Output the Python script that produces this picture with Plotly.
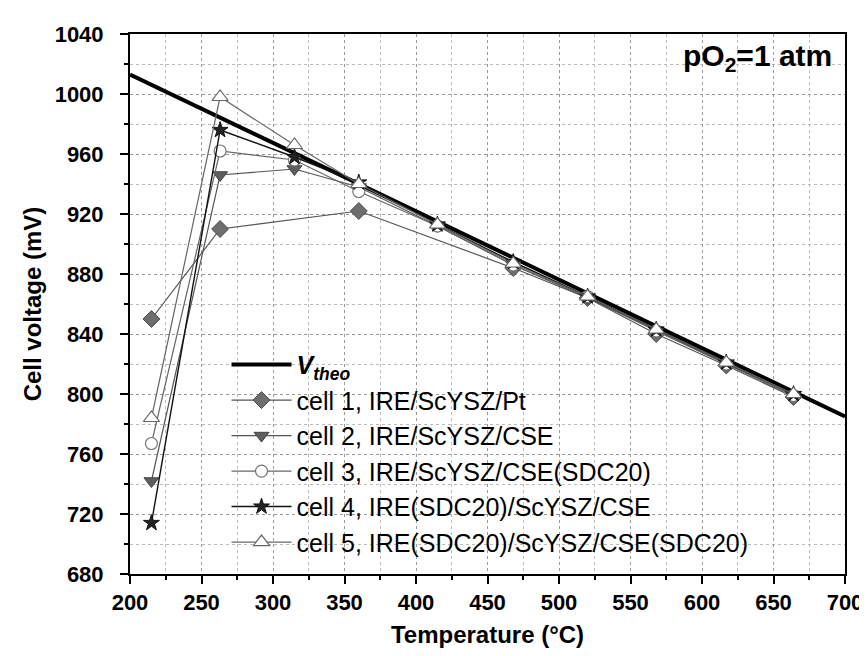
import plotly.graph_objects as go

# ---- data ----
theo_t = [200, 700]
theo_v = [1013, 785]

t1 = [215, 263, 360, 468, 520, 568, 617, 664]
v1 = [850, 910, 922, 884, 864, 840, 819, 798]

t_all = [215, 263, 315, 360, 415, 468, 520, 568, 617, 664]
v2 = [742, 946, 950, 938, 912, 886, 864, 842, 820, 799]
v3 = [767, 962, 956, 935, 912, 886, 865, 842, 820, 799]
v4 = [714, 976, 958, 941, 913, 888, 865, 843, 821, 800]
v5 = [784, 998, 966, 940, 913, 887, 865, 843, 821, 800]

names = [
    "cell 1, IRE/ScYSZ/Pt",
    "cell 2, IRE/ScYSZ/CSE",
    "cell 3, IRE/ScYSZ/CSE(SDC20)",
    "cell 4, IRE(SDC20)/ScYSZ/CSE",
    "cell 5, IRE(SDC20)/ScYSZ/CSE(SDC20)",
]

x_ticks = [200, 250, 300, 350, 400, 450, 500, 550, 600, 650, 700]
y_ticks = [680, 720, 760, 800, 840, 880, 920, 960, 1000, 1040]

FONT = "Liberation Sans, Arial, sans-serif"

fig = go.Figure()

fig.add_trace(go.Scatter(
    x=theo_t, y=theo_v, mode="lines",
    name="<b><i>V</i></b><sub><b><i>theo</i></b></sub>",
    line=dict(color="black", width=4), legendgroup="g0"))

fig.add_trace(go.Scatter(
    x=t1, y=v1, mode="lines+markers", name=names[0], legendgroup="g1",
    line=dict(color="#555555", width=1.2),
    marker=dict(symbol="diamond", size=13, color="#6e6e6e",
                line=dict(color="#4a4a4a", width=1))))

fig.add_trace(go.Scatter(
    x=t_all, y=v2, mode="lines+markers", name=names[1], legendgroup="g2",
    line=dict(color="#555555", width=1.2),
    marker=dict(symbol="triangle-down", size=13, color="#5e5e5e",
                line=dict(color="#444444", width=1))))

fig.add_trace(go.Scatter(
    x=t_all, y=v3, mode="lines+markers", name=names[2], legendgroup="g3",
    line=dict(color="#666666", width=1.2),
    marker=dict(symbol="circle", size=12, color="white",
                line=dict(color="#777777", width=1.2))))

fig.add_trace(go.Scatter(
    x=t_all, y=v4, mode="lines+markers", name=names[3], legendgroup="g4",
    line=dict(color="#111111", width=1.4),
    marker=dict(symbol="star", size=12, color="#222222",
                line=dict(color="#111111", width=1))))

fig.add_trace(go.Scatter(
    x=t_all, y=v5, mode="lines+markers", name=names[4], legendgroup="g5",
    line=dict(color="#666666", width=1.2),
    marker=dict(symbol="triangle-up", size=14, color="white",
                line=dict(color="#666666", width=1.2))))

title_font = dict(family=FONT, size=24, color="black")
tick_font = dict(family=FONT, size=22, color="black", weight="bold")

fig.update_layout(
    width=867, height=656,
    margin=dict(l=122, r=23, t=26, b=90),
    paper_bgcolor="white", plot_bgcolor="white",
    font=dict(family=FONT, color="black"),
    legend=dict(
        x=0.135, y=0.017, xanchor="left", yanchor="bottom",
        bgcolor="rgba(255,255,255,0)", borderwidth=0,
        font=dict(family=FONT, size=25, color="black"),
        tracegroupgap=0, traceorder="grouped", itemwidth=60,
    ),
    annotations=[dict(
        x=0.985, y=0.995, xref="paper", yref="paper", xanchor="right", yanchor="top",
        text="<b>pO<sub>2</sub>=1 atm</b>", showarrow=False,
        font=dict(family=FONT, size=30, color="black"))],
)

fig.update_xaxes(
    range=[200, 700], tickvals=x_ticks, ticktext=[str(v) for v in x_ticks],
    tickfont=tick_font, ticklabelstandoff=0,
    title=dict(text="<b>Temperature (°C)</b>", font=title_font, standoff=12),
    showline=True, linecolor="black", linewidth=2, mirror=True,
    ticks="outside", ticklen=8, tickwidth=2, tickcolor="black",
    showgrid=True, gridcolor="#999999", griddash="dot", gridwidth=1,
    zeroline=False,
    minor=dict(dtick=25, ticks="outside", ticklen=4, tickcolor="black",
               showgrid=True, gridcolor="#bbbbbb", griddash="dot", gridwidth=1),
)

fig.update_yaxes(
    range=[680, 1040], tickvals=y_ticks, ticktext=[str(v) for v in y_ticks],
    tickfont=tick_font, ticklabelstandoff=12,
    title=dict(text="<b>Cell voltage (mV)</b>", font=title_font, standoff=6),
    showline=True, linecolor="black", linewidth=2, mirror=True,
    ticks="outside", ticklen=8, tickwidth=2, tickcolor="black",
    showgrid=True, gridcolor="#999999", griddash="dot", gridwidth=1,
    zeroline=False,
    minor=dict(dtick=20, ticks="outside", ticklen=4, tickcolor="black",
               showgrid=True, gridcolor="#bbbbbb", griddash="dot", gridwidth=1),
)

fig.write_html("out.html")
